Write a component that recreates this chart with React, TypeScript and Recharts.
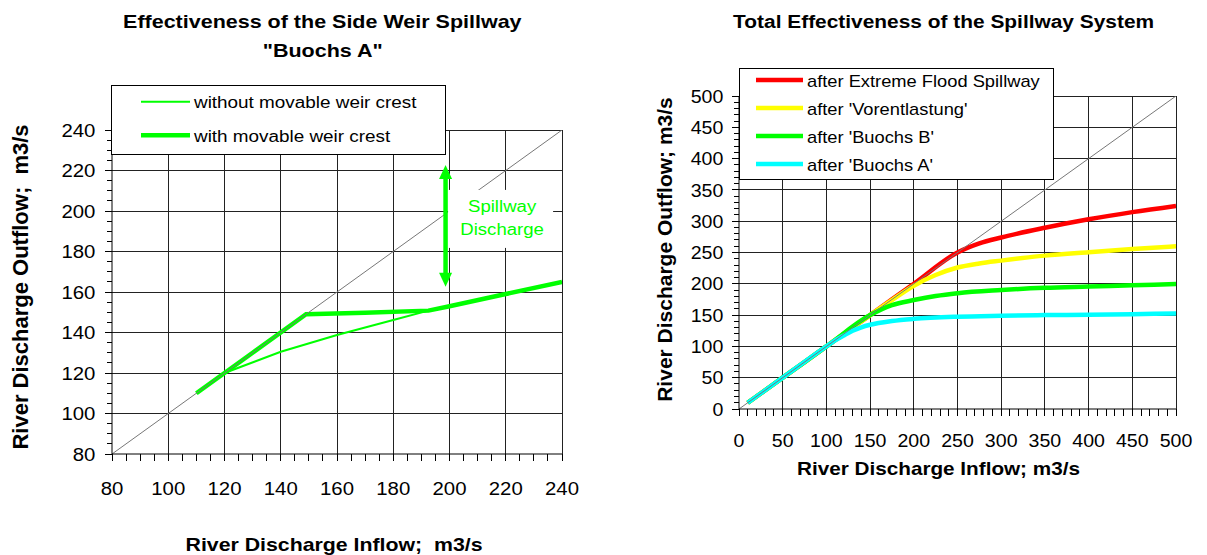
import React from "react"
import {
  LineChart,
  Line,
  XAxis,
  YAxis,
  CartesianGrid,
  Legend,
  ReferenceLine,
  ReferenceDot,
  Label,
} from "recharts"

const FONT = "'Liberation Sans', Arial, Helvetica, sans-serif"
const SQUISH = 0.87
const GREEN = "#00ff00"
const GRID = "#222"

// ---- left chart: side weir spillway "Buochs A"
const weirInflowWithout  = [110, 120, 140, 160, 180, 192.5, 200, 220, 240]
const weirOutflowWithout = [110, 120, 130.5, 138.8, 146.2, 150.8, 153, 159, 165]
const weirInflowWith     = [110, 120, 130, 149, 170, 192.5, 200, 220, 240]
const weirOutflowWith    = [110, 120, 130, 149, 149.7, 150.8, 153, 159, 165]
const weirDiagonal       = [80, 240]
const weirMajorTicks     = [80, 100, 120, 140, 160, 180, 200, 220, 240]
const weirArrow = { x: 198.6, from: 162.6, to: 222.7 }
const weirNote  = { x: 218.7, y: 195.6, lines: ["Spillway", "Discharge"] }

// ---- right chart: whole spillway system
const sysInflowRed     = [10, 50, 100, 150, 200, 250, 275, 300, 350, 400, 450, 500]
const sysOutflowRed    = [10, 50, 100, 150, 200, 250, 264.5, 274, 289.5, 303, 314.5, 324.5]
const sysInflowYellow  = [10, 50, 100, 150, 175, 200, 225, 250, 275, 300, 350, 400, 450, 500]
const sysOutflowYellow = [10, 50, 100, 150, 174, 197, 214, 226, 232.5, 237, 245, 250.5, 255.5, 260]
const sysInflowGreen   = [10, 50, 100, 150, 175, 200, 225, 250, 300, 350, 400, 450, 500]
const sysOutflowGreen  = [10, 50, 100, 150, 166, 174, 180.5, 185, 190, 193.5, 195.5, 197.5, 199.5]
const sysInflowCyan    = [10, 50, 100, 110, 120, 130, 140, 150, 175, 200, 250, 300, 350, 400, 450, 500]
const sysOutflowCyan   = [10, 50, 100, 109.5, 117.5, 125, 130.5, 134.5, 140.5, 144, 147.5, 149, 150, 150.5, 151.5, 152.5]
const sysDiagonal      = [0, 500]
const sysMajorTicks    = [0, 50, 100, 150, 200, 250, 300, 350, 400, 450, 500]

const zip = (xs: number[], ys: number[]) => xs.map((x, i) => ({ x, y: ys[i] }))
const range = (a: number, b: number, step: number) => {
  const out: number[] = []
  for (let v = a; v <= b; v += step) out.push(v)
  return out
}

const weirSeries = [
  { name: "without movable weir crest", data: zip(weirInflowWithout, weirOutflowWithout), color: GREEN, width: 2 },
  { name: "with movable weir crest", data: zip(weirInflowWith, weirOutflowWith), color: GREEN, width: 4.5 },
]
const sysSeries = [
  { name: "after Extreme Flood Spillway", data: zip(sysInflowRed, sysOutflowRed), color: "#ff0000", width: 4.5 },
  { name: "after 'Vorentlastung'", data: zip(sysInflowYellow, sysOutflowYellow), color: "#ffff00", width: 4.5 },
  { name: "after 'Buochs B'", data: zip(sysInflowGreen, sysOutflowGreen), color: GREEN, width: 4.5 },
  { name: "after 'Buochs A'", data: zip(sysInflowCyan, sysOutflowCyan), color: "#00ffff", width: 4.5 },
]

function SText({
  x, y, size, bold, anchor = "middle", fill = "#000", sy = SQUISH, children,
}: {
  x: number; y: number; size: number; bold?: boolean; anchor?: string
  fill?: string; sy?: number; children: React.ReactNode
}) {
  return (
    <text
      transform={`translate(${x},${y}) scale(1,${sy})`}
      fontSize={size}
      fontFamily={FONT}
      fontWeight={bold ? "bold" : "normal"}
      textAnchor={anchor as any}
      fill={fill}
      style={{ whiteSpace: "pre" }}
    >
      {children}
    </text>
  )
}

function RotText({ cx, cy, size, children }: { cx: number; cy: number; size: number; children: React.ReactNode }) {
  return (
    <text
      transform={`translate(${cx},${cy}) rotate(-90)`}
      dy="0.35em"
      fontSize={size}
      fontFamily={FONT}
      fontWeight="bold"
      textAnchor="middle"
      style={{ whiteSpace: "pre" }}
    >
      {children}
    </text>
  )
}

const xTick = (majors: number[], size: number, labelDy: number) => (p: any) => {
  const v = p.payload.value
  return (
    <g>
      <line x1={p.x} x2={p.x} y1={p.y} y2={p.y + 7} stroke="#000" shapeRendering="crispEdges" />
      {majors.includes(v) && (
        <SText x={p.x} y={p.y + labelDy} size={size} sy={0.9}>{v}</SText>
      )}
    </g>
  )
}

const yTick = (majors: number[], size: number, gap: number) => (p: any) => {
  const v = p.payload.value
  const major = majors.includes(v)
  return (
    <g>
      <line x1={p.x - (major ? 7 : 5)} x2={p.x} y1={p.y} y2={p.y} stroke="#000" shapeRendering="crispEdges" />
      {major && (
        <SText x={p.x - gap} y={p.y + 6.6} size={size} sy={0.9} anchor="end">{v}</SText>
      )}
    </g>
  )
}

function LegendBox({
  w, h, items, lineX1, lineX2, textX, firstY, gap, baseDy, size,
}: {
  w: number; h: number; items: { name: string; color: string; width: number }[]
  lineX1: number; lineX2: number; textX: number; firstY: number; gap: number; baseDy: number; size: number
}) {
  return (
    <svg width={w} height={h} style={{ display: "block" }}>
      <rect x={0.5} y={0.5} width={w - 1} height={h - 1} fill="#fff" stroke="#000" />
      {items.map((it, i) => {
        const y = firstY + i * gap
        return (
          <g key={it.name}>
            <line x1={lineX1} x2={lineX2} y1={y} y2={y} stroke={it.color} strokeWidth={it.width} />
            <SText x={textX} y={y + baseDy} size={size} anchor="start">{it.name}</SText>
          </g>
        )
      })}
    </svg>
  )
}

function ArrowShape(p: any) {
  const x = p.x1
  const top = Math.min(p.y1, p.y2)
  const bot = Math.max(p.y1, p.y2)
  const head = 14
  const hw = 6.5
  return (
    <g>
      <line x1={x} x2={x} y1={top + head - 2} y2={bot - head + 2} stroke={GREEN} strokeWidth={4.5} />
      <polygon points={`${x},${top} ${x - hw},${top + head} ${x + hw},${top + head}`} fill={GREEN} />
      <polygon points={`${x},${bot} ${x - hw},${bot - head} ${x + hw},${bot - head}`} fill={GREEN} />
    </g>
  )
}

function NoteShape(p: any) {
  const { cx, cy } = p
  return (
    <g>
      <rect x={cx - 54} y={cy - 30} width={105} height={58} fill="#fff" />
      <SText x={cx} y={cy - 8} size={18.6} fill={GREEN}>{weirNote.lines[0]}</SText>
      <SText x={cx} y={cy + 15} size={18.6} fill={GREEN}>{weirNote.lines[1]}</SText>
    </g>
  )
}

function WeirChart() {
  const minor = range(80, 240, 5)
  return (
    <LineChart width={600} height={555} margin={{ top: 130, right: 38, bottom: 0, left: 0 }}>
      <CartesianGrid
        stroke={GRID}
        horizontalValues={weirMajorTicks.slice(1)}
        verticalValues={weirMajorTicks.slice(1)}
        shapeRendering="crispEdges"
      />
      <XAxis
        type="number"
        dataKey="x"
        domain={[80, 240]}
        allowDataOverflow
        ticks={minor}
        interval={0}
        tickLine={false}
        tickSize={0}
        tickMargin={0}
        height={101}
        axisLine={{ stroke: "#000" }}
        tick={xTick(weirMajorTicks, 20.4, 41)}
      >
        <Label
          content={(p: any) => (
            <SText x={p.viewBox.x + p.viewBox.width / 2 - 3} y={p.viewBox.y + 97} size={21.3} bold>
              {"River Discharge Inflow;  m3/s"}
            </SText>
          )}
        />
      </XAxis>
      <YAxis
        type="number"
        dataKey="y"
        domain={[80, 240]}
        allowDataOverflow
        ticks={minor}
        interval={0}
        tickLine={false}
        tickSize={0}
        tickMargin={0}
        width={112}
        axisLine={{ stroke: "#000" }}
        tick={yTick(weirMajorTicks, 20.4, 16.6)}
      >
        <Label
          content={(p: any) => (
            <RotText cx={p.viewBox.x + 20} cy={p.viewBox.y + p.viewBox.height / 2 - 5} size={22}>
              {"River Discharge Outflow;  m3/s"}
            </RotText>
          )}
        />
      </YAxis>
      {weirSeries.map((s) => (
        <Line
          key={s.name}
          name={s.name}
          data={s.data}
          dataKey="y"
          type="linear"
          stroke={s.color}
          strokeWidth={s.width}
          dot={false}
          isAnimationActive={false}
        />
      ))}
      <Line
        data={zip(weirDiagonal, weirDiagonal)}
        dataKey="y"
        type="linear"
        stroke="#777"
        strokeWidth={1}
        dot={false}
        legendType="none"
        isAnimationActive={false}
      />
      <ReferenceLine
        segment={[{ x: weirArrow.x, y: weirArrow.from }, { x: weirArrow.x, y: weirArrow.to }]}
        shape={ArrowShape}
      />
      <ReferenceDot x={weirNote.x} y={weirNote.y} r={0} shape={NoteShape} />
      <Legend
        verticalAlign="middle"
        align="center"
        layout="horizontal"
        wrapperStyle={{ left: 111, top: 85, width: 335, height: 70 }}
        content={() => (
          <LegendBox
            w={335} h={70} items={weirSeries}
            lineX1={30} lineX2={79} textX={83}
            firstY={16.7} gap={33.6} baseDy={6.6} size={18.9}
          />
        )}
      />
    </LineChart>
  )
}

function SystemChart() {
  const minor = range(0, 500, 10)
  return (
    <LineChart width={607} height={555} margin={{ top: 96, right: 31, bottom: 0, left: 0 }}>
      <CartesianGrid
        stroke={GRID}
        horizontalValues={sysMajorTicks.slice(1)}
        verticalValues={sysMajorTicks.slice(1)}
        shapeRendering="crispEdges"
      />
      <XAxis
        type="number"
        dataKey="x"
        domain={[0, 500]}
        allowDataOverflow
        ticks={minor}
        interval={0}
        tickLine={false}
        tickSize={0}
        tickMargin={0}
        height={146}
        axisLine={{ stroke: "#000" }}
        tick={xTick(sysMajorTicks, 19.6, 37.7)}
      >
        <Label
          content={(p: any) => (
            <SText x={p.viewBox.x + p.viewBox.width / 2 - 19} y={p.viewBox.y + 66} size={20.7} bold>
              River Discharge Inflow; m3/s
            </SText>
          )}
        />
      </XAxis>
      <YAxis
        type="number"
        dataKey="y"
        domain={[0, 500]}
        allowDataOverflow
        ticks={minor}
        interval={0}
        tickLine={false}
        tickSize={0}
        tickMargin={0}
        width={139}
        axisLine={{ stroke: "#000" }}
        tick={yTick(sysMajorTicks, 19.6, 15.7)}
      >
        <Label
          content={(p: any) => (
            <RotText cx={p.viewBox.x + 64.7} cy={p.viewBox.y + p.viewBox.height / 2 - 3} size={21}>
              River Discharge Outflow; m3/s
            </RotText>
          )}
        />
      </YAxis>
      {sysSeries.map((s) => (
        <Line
          key={s.name}
          name={s.name}
          data={s.data}
          dataKey="y"
          type="monotone"
          stroke={s.color}
          strokeWidth={s.width}
          dot={false}
          isAnimationActive={false}
        />
      ))}
      <Line
        data={zip(sysDiagonal, sysDiagonal)}
        dataKey="y"
        type="linear"
        stroke="#777"
        strokeWidth={1}
        dot={false}
        legendType="none"
        isAnimationActive={false}
      />
      <Legend
        verticalAlign="middle"
        align="center"
        layout="horizontal"
        wrapperStyle={{ left: 139, top: 68, width: 315, height: 112 }}
        content={() => (
          <LegendBox
            w={315} h={112} items={sysSeries}
            lineX1={17} lineX2={64} textX={68}
            firstY={12} gap={28} baseDy={7.3} size={18.3}
          />
        )}
      />
    </LineChart>
  )
}

export default function App() {
  return (
    <div style={{ position: "absolute", left: 0, top: 0, width: 1207, height: 555, background: "#fff" }}>
      <div style={{ position: "absolute", left: 0, top: 0 }}>
        <WeirChart />
      </div>
      <div style={{ position: "absolute", left: 600, top: 0 }}>
        <SystemChart />
      </div>
      <svg
        width={1207}
        height={60}
        style={{ position: "absolute", left: 0, top: 0, pointerEvents: "none" }}
      >
        <SText x={322.3} y={28.3} size={21.5} bold>Effectiveness of the Side Weir Spillway</SText>
        <SText x={322.7} y={57.3} size={21.5} bold>"Buochs A"</SText>
        <SText x={943.6} y={28.3} size={20.9} bold>Total Effectiveness of the Spillway System</SText>
      </svg>
    </div>
  )
}
